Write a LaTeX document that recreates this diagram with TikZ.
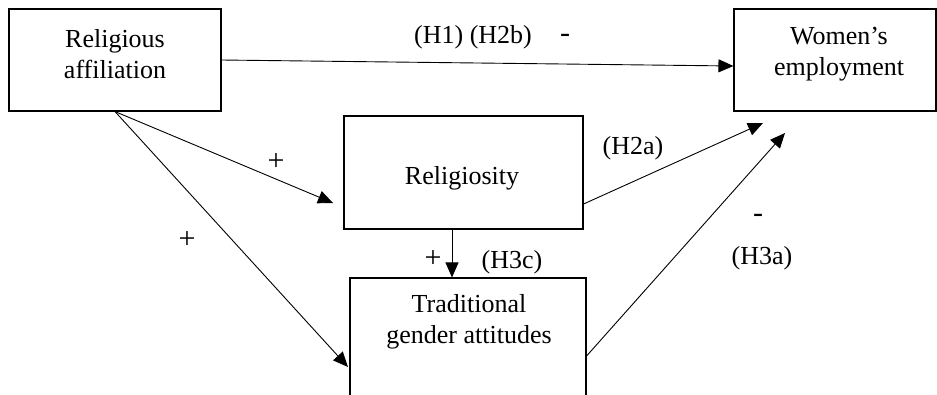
\documentclass[tikz,border=0pt]{standalone}
\usepackage{fontspec}
\setmainfont{Liberation Serif}
\usetikzlibrary{arrows.meta}

\begin{document}
\begin{tikzpicture}[x=1pt,y=-1pt,
    box/.style={draw,line width=1.1pt,inner sep=0pt},
    txt/.style={font=\fontsize{26}{31}\selectfont,align=center,inner sep=0pt},
    lab/.style={font=\fontsize{26}{30}\selectfont,inner sep=0pt},
    sign/.style={font=\fontsize{30}{30}\selectfont,inner sep=0pt},
    arr/.style={-{Triangle[length=15pt 0,width=13pt 0]},line width=0.9pt}]
    \useasboundingbox (0,0) rectangle (937,394);

    \node[box,minimum width=212pt,minimum height=102pt] (ra) at (115,60) {};
    \node[box,minimum width=202pt,minimum height=102pt] (we) at (835,60) {};
    \node[box,minimum width=239pt,minimum height=113pt] (rel) at (463.5,172.5) {};
    \node[box,minimum width=236pt,minimum height=130pt] (tga) at (468,343) {};

    \node[txt] (ra-t) at (115,54) {Religious\\affiliation};
    \node[txt] (we-t) at (839,54) {Women’s\\employment};
    \node[txt] (rel-t) at (462,178) {Religiosity};
    \node[txt] (tga-t) at (469,322) {Traditional\\gender attitudes};

    \coordinate (rel-in) at (333,203);
    \coordinate (tga-in) at (348,367);
    \coordinate (we-in1) at (763,123);
    \coordinate (we-in2) at (785,133);

    \draw[arr] (ra.east) -- ([yshift=-6pt]we.west);
    \draw[arr] (ra.south) -- (rel-in);
    \draw[arr] (ra.south) -- (tga-in);
    \draw[arr] ([yshift=-31.5pt]rel.east) -- (we-in1);
    \draw[arr] ([yshift=-13pt]tga.east) -- (we-in2);
    \draw[arr] ([xshift=-11.5pt]rel.south) -- ([xshift=-16pt]tga.north);

    \node[lab] (l-h1) at (473,37) {(H1) (H2b)};
    \node[sign] (l-m1) at (565,38) {-};
    \node[sign] (l-p1) at (276,162) {+};
    \node[lab] (l-h2a) at (633,148) {(H2a)};
    \node[sign] (l-p2) at (187,240) {+};
    \node[sign] (l-p3) at (433,259) {+};
    \node[lab] (l-h3c) at (512,262) {(H3c)};
    \node[sign] (l-m2) at (758,218) {-};
    \node[lab] (l-h3a) at (762,258) {(H3a)};
\end{tikzpicture}
\end{document}
